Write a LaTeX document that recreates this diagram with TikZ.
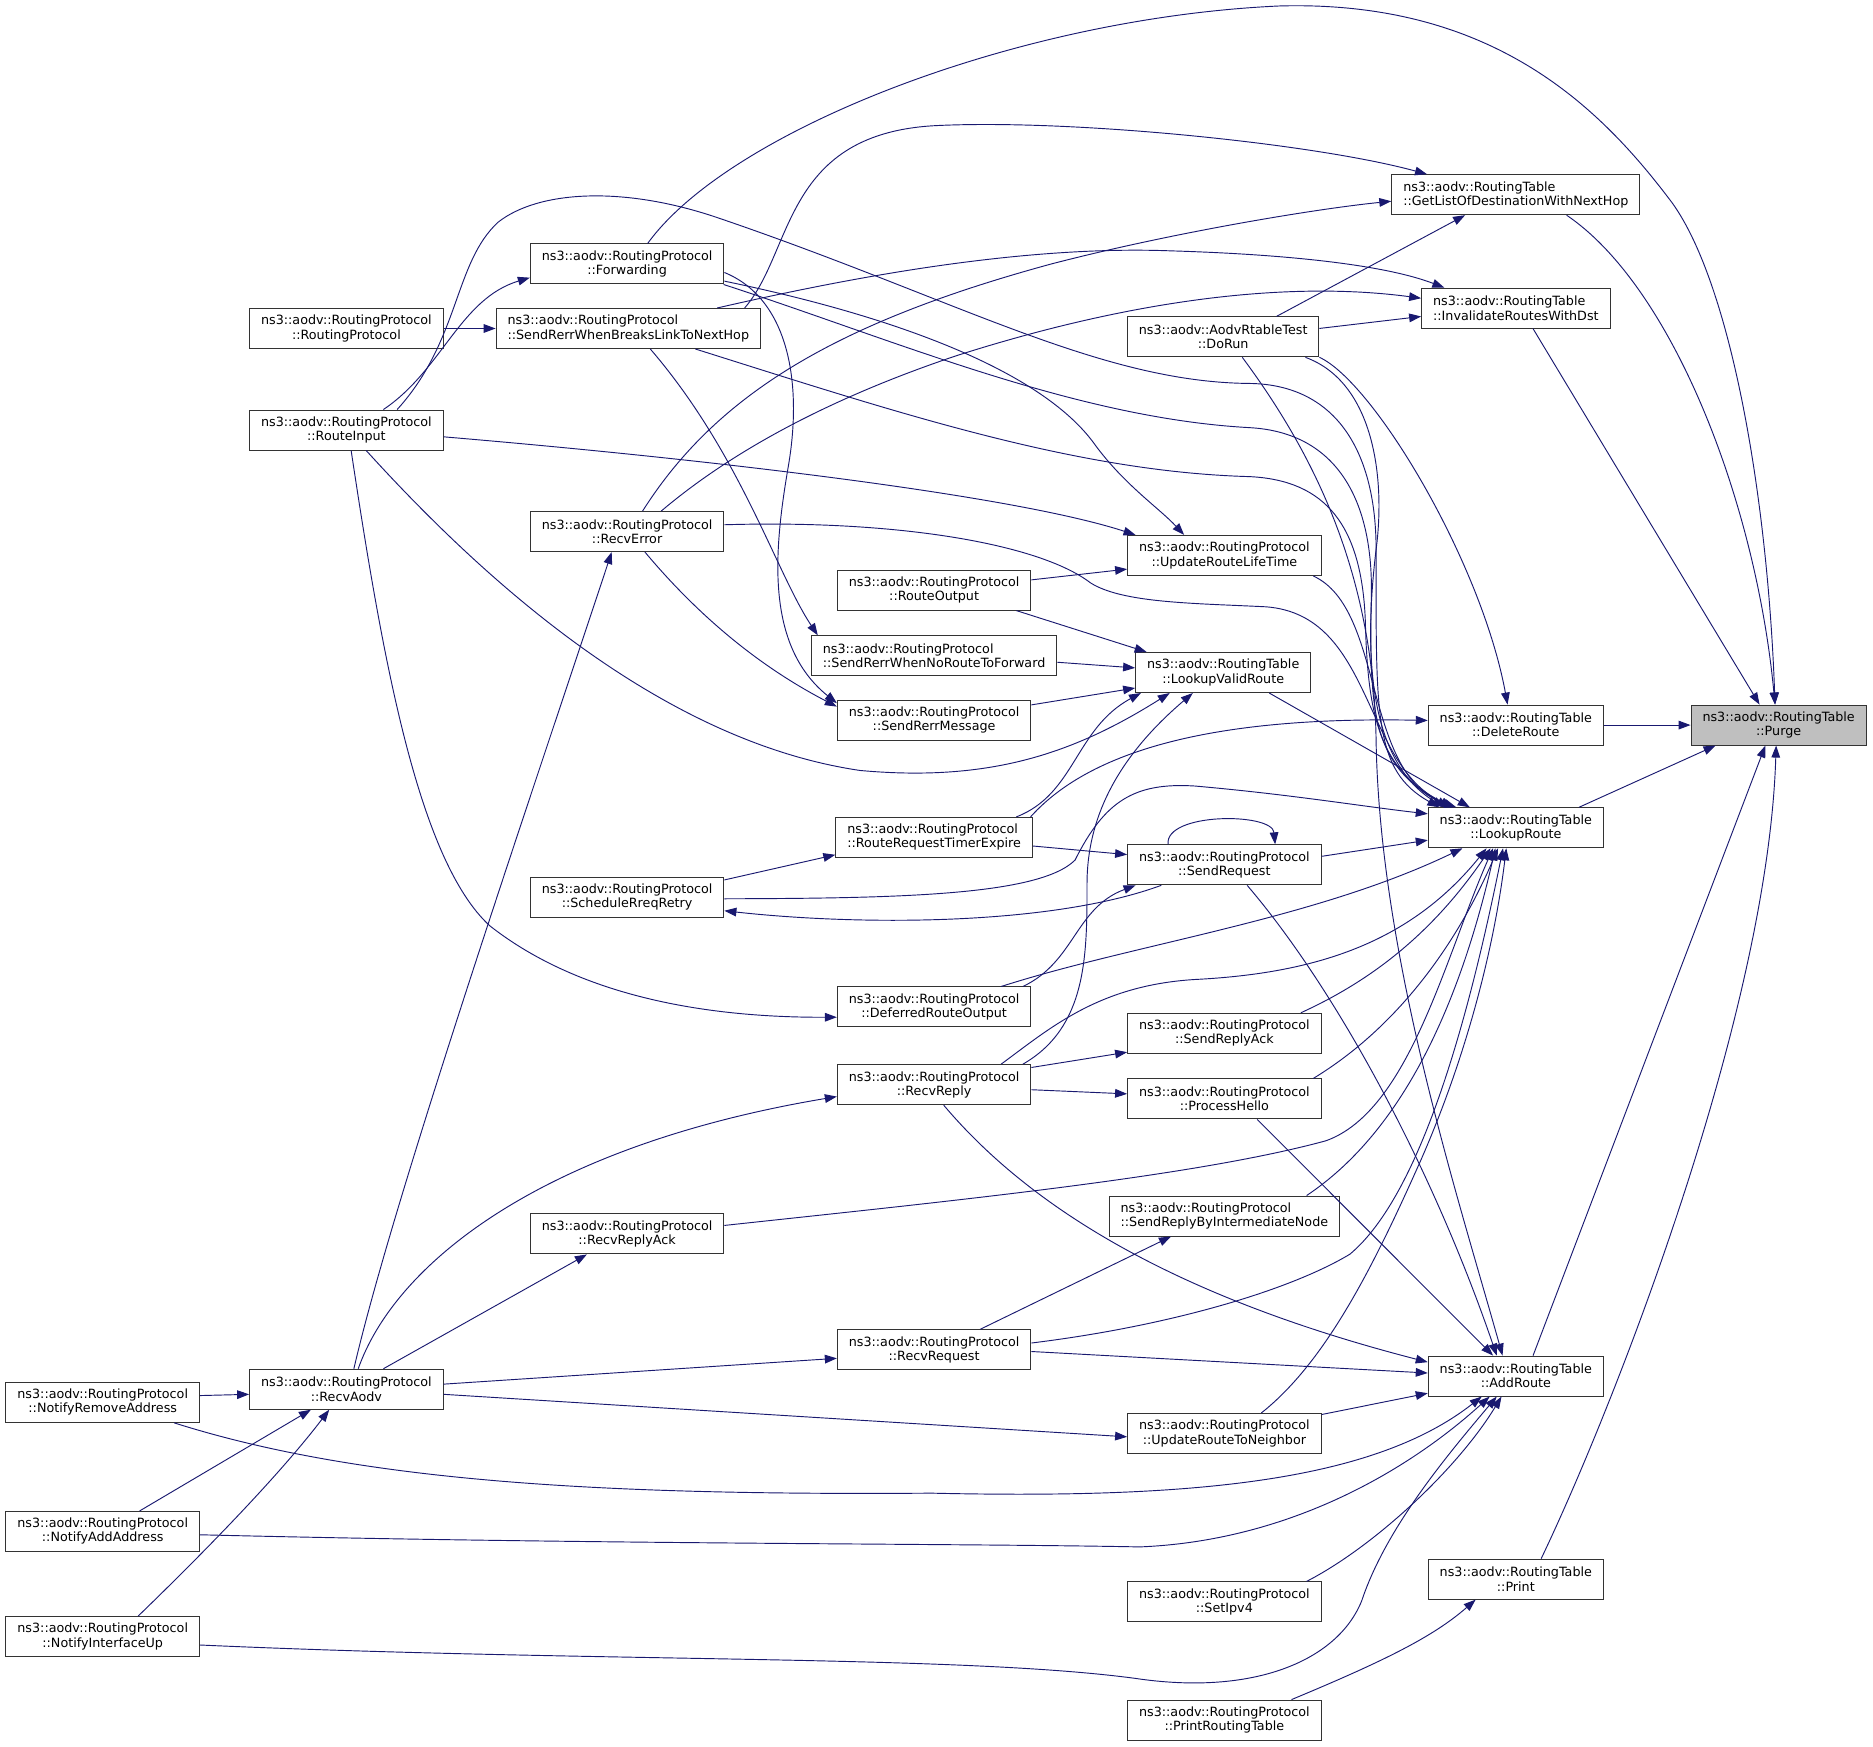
\documentclass[tikz,border=0pt]{standalone}
\usepackage{fontspec}
\newfontfamily\dejavu{DejaVu Sans}
\usetikzlibrary{arrows.meta}
\definecolor{edgeblue}{HTML}{191970}
\definecolor{nodegray}{HTML}{BFBFBF}
\begin{document}
\begin{tikzpicture}[x=0.8959pt,y=-0.8959pt,
  fn/.style={draw=black!80,line width=0.75pt,fill=white,font=\dejavu\fontsize{9.55}{10.6}\selectfont,
    align=center,inner xsep=8.6pt,inner ysep=0pt,minimum height=30pt},
  fnl/.style={fn,align=left},
  callarrow/.style={draw=edgeblue,line width=0.7pt,-{Triangle[length=9pt,width=6.5pt]}}]
\fill[white] (0,0) rectangle (1568,1461.7);
\useasboundingbox (0,0) rectangle (1568,1461.7);

% routing table functions
\node[fn,fill=nodegray] (purge) at (1489,607) {ns3::aodv::RoutingTable\\::Purge};
\node[fn] (delroute) at (1269,607) {ns3::aodv::RoutingTable\\::DeleteRoute};
\node[fn] (lookup) at (1269,693) {ns3::aodv::RoutingTable\\::LookupRoute};
\node[fn] (addroute) at (1269,1152) {ns3::aodv::RoutingTable\\::AddRoute};
\node[fn] (print) at (1269,1322) {ns3::aodv::RoutingTable\\::Print};
\node[fnl] (getlist) at (1269,163) {ns3::aodv::RoutingTable\\::GetListOfDestinationWithNextHop};
\node[fnl] (invalidate) at (1269,258) {ns3::aodv::RoutingTable\\::InvalidateRoutesWithDst};
\node[fn] (lookupvalid) at (1024,563) {ns3::aodv::RoutingTable\\::LookupValidRoute};
\node[fn] (dorun) at (1024,282) {ns3::aodv::AodvRtableTest\\::DoRun};

% routing protocol functions
\node[fn] (updlife) at (1025,465) {ns3::aodv::RoutingProtocol\\::UpdateRouteLifeTime};
\node[fn] (sendreq) at (1025,724) {ns3::aodv::RoutingProtocol\\::SendRequest};
\node[fn] (replyack) at (1025,865) {ns3::aodv::RoutingProtocol\\::SendReplyAck};
\node[fn] (hello) at (1025,920) {ns3::aodv::RoutingProtocol\\::ProcessHello};
\node[fnl] (replyinter) at (1025,1018) {ns3::aodv::RoutingProtocol\\::SendReplyByIntermediateNode};
\node[fn] (updneighbor) at (1025,1200) {ns3::aodv::RoutingProtocol\\::UpdateRouteToNeighbor};
\node[fn] (setipv4) at (1025,1341) {ns3::aodv::RoutingProtocol\\::SetIpv4};
\node[fn] (printtable) at (1025,1440) {ns3::aodv::RoutingProtocol\\::PrintRoutingTable};
\node[fn] (routeout) at (782,494) {ns3::aodv::RoutingProtocol\\::RouteOutput};
\node[fnl] (rerrnoroute) at (782,549) {ns3::aodv::RoutingProtocol\\::SendRerrWhenNoRouteToForward};
\node[fn] (rerrmsg) at (782,603) {ns3::aodv::RoutingProtocol\\::SendRerrMessage};
\node[fnl] (reqtimer) at (782,701) {ns3::aodv::RoutingProtocol\\::RouteRequestTimerExpire};
\node[fn] (deferred) at (782,843) {ns3::aodv::RoutingProtocol\\::DeferredRouteOutput};
\node[fn] (recvreply) at (782,908) {ns3::aodv::RoutingProtocol\\::RecvReply};
\node[fn] (recvreq) at (782,1130) {ns3::aodv::RoutingProtocol\\::RecvRequest};
\node[fn] (forwarding) at (525,221) {ns3::aodv::RoutingProtocol\\::Forwarding};
\node[fnl] (rerrbreaks) at (526,275) {ns3::aodv::RoutingProtocol\\::SendRerrWhenBreaksLinkToNextHop};
\node[fn] (recverror) at (525,445) {ns3::aodv::RoutingProtocol\\::RecvError};
\node[fn] (rreqretry) at (525,751) {ns3::aodv::RoutingProtocol\\::ScheduleRreqRetry};
\node[fn] (recvreplyack) at (525,1033) {ns3::aodv::RoutingProtocol\\::RecvReplyAck};
\node[fn] (ctor) at (290,275) {ns3::aodv::RoutingProtocol\\::RoutingProtocol};
\node[fn] (routein) at (290,360) {ns3::aodv::RoutingProtocol\\::RouteInput};
\node[fn] (recvaodv) at (290,1163) {ns3::aodv::RoutingProtocol\\::RecvAodv};
\node[fn] (notifyremove) at (86,1174) {ns3::aodv::RoutingProtocol\\::NotifyRemoveAddress};
\node[fn] (notifyadd) at (86,1282) {ns3::aodv::RoutingProtocol\\::NotifyAddAddress};
\node[fn] (notifyup) at (86,1370) {ns3::aodv::RoutingProtocol\\::NotifyInterfaceUp};

% calls into Purge
\draw[callarrow] (delroute) -- (purge);
\draw[callarrow] (lookup.18) -- (purge.-162);
\draw[callarrow] (addroute.50) -- (purge.-123);
\draw[callarrow] (print.39) .. controls (1350,1180) and (1480,850) .. (purge.-97);
\draw[callarrow] (getlist.-22) .. controls (1400,240) and (1470,420) .. (purge.100);
\draw[callarrow] (invalidate.-50) -- (purge.133);
\draw[callarrow] (forwarding.45) .. controls (610,110) and (850,15) .. (1071,5)
  .. controls (1250,0) and (1340,90) .. (1400,170)
  .. controls (1450,240) and (1480,420) .. (purge.100);

% calls into GetListOfDestinationWithNextHop and InvalidateRoutesWithDst
\draw[callarrow] (dorun.21) -- (getlist.-158);
\draw[callarrow] (rerrbreaks.10) .. controls (665,210) and (655,110) .. (787,105)
  .. controls (900,100) and (1100,120) .. (getlist.167);
\draw[callarrow] (recverror.53) .. controls (600,330) and (700,270) .. (880,221)
  .. controls (980,195) and (1100,175) .. (getlist.-177);
\draw[callarrow] (dorun.5) -- (invalidate.-175);
\draw[callarrow] (rerrbreaks.13) .. controls (700,235) and (850,205) .. (980,210)
  .. controls (1080,213) and (1160,222) .. (invalidate.164);
\draw[callarrow] (recverror.31) .. controls (610,380) and (690,335) .. (800,298)
  .. controls (950,250) and (1080,235) .. (invalidate.174);

% calls into DeleteRoute
\draw[callarrow] (dorun.-12) .. controls (1150,320) and (1240,470) .. (delroute.112);
\draw[callarrow] (reqtimer.12) .. controls (920,620) and (1040,600) .. (delroute.177);

% calls into LookupRoute
\draw[callarrow] (lookupvalid.-24) -- (lookup.156);
\draw[callarrow] (dorun.-14) .. controls (1150,320) and (1160,400) .. (1152,460)
  .. controls (1140,560) and (1150,640) .. (lookup.164);
\draw[callarrow] (forwarding.-12) .. controls (750,285) and (900,350) .. (1046,358)
  .. controls (1120,362) and (1150,420) .. (1148,500)
  .. controls (1146,600) and (1150,640) .. (lookup.163);
\draw[callarrow] (rerrbreaks.-17) .. controls (750,345) and (900,395) .. (1046,399)
  .. controls (1110,402) and (1140,440) .. (1143,520)
  .. controls (1145,600) and (1155,645) .. (lookup.162);
\draw[callarrow] (routein.22) .. controls (385,285) and (380,220) .. (417,186)
  .. controls (450,160) and (520,155) .. (600,182)
  .. controls (800,250) and (920,320) .. (1046,321)
  .. controls (1120,322) and (1152,380) .. (1152,460)
  .. controls (1152,600) and (1150,645) .. (lookup.165);
\draw[callarrow] (recverror.4) .. controls (750,435) and (870,455) .. (913,488)
  .. controls (940,505) and (1000,505) .. (1060,508)
  .. controls (1150,515) and (1140,640) .. (lookup.162);
\draw[callarrow] (updlife.-13) .. controls (1160,510) and (1140,650) .. (lookup.161);
\draw[callarrow] (rreqretry.-1) .. controls (750,752) and (870,750) .. (900,720)
  .. controls (925,670) and (950,655) .. (1000,658)
  .. controls (1080,665) and (1140,675) .. (lookup.171);
\draw[callarrow] (sendreq.5) -- (lookup.-172);
\draw[callarrow] (deferred.17) .. controls (950,790) and (1100,770) .. (lookup.-159);
\draw[callarrow] (recvreply.17) .. controls (880,860) and (920,825) .. (1000,820)
  .. controls (1100,815) and (1180,790) .. (lookup.-145);
\draw[callarrow] (replyack.15) .. controls (1150,820) and (1200,780) .. (lookup.-141);
\draw[callarrow] (hello.13) .. controls (1170,860) and (1220,790) .. (lookup.-131);
\draw[callarrow] (replyinter.14) .. controls (1170,950) and (1220,850) .. (lookup.-135);
\draw[callarrow] (recvreplyack.5) .. controls (800,1005) and (1000,985) .. (1110,955)
  .. controls (1180,930) and (1210,800) .. (lookup.-138);
\draw[callarrow] (recvreq.4) .. controls (980,1110) and (1080,1080) .. (1130,1050)
  .. controls (1190,1000) and (1230,850) .. (lookup.-122);
\draw[callarrow] (updneighbor.29) .. controls (1110,1140) and (1150,1060) .. (1190,970)
  .. controls (1225,890) and (1250,800) .. (lookup.-115);

% SendRequest and the request timer
\draw[callarrow] (sendreq.160) .. controls (975,680) and (1065,680) .. (sendreq.22);
\draw[callarrow] (sendreq.-162) .. controls (880,775) and (720,775) .. (rreqretry.-8);
\draw[callarrow] (reqtimer.-5) -- (sendreq.174);
\draw[callarrow] (deferred.13) .. controls (900,805) and (900,760) .. (sendreq.-167);
\draw[callarrow] (rreqretry.10) -- (reqtimer.-170);

% calls into LookupValidRoute
\draw[callarrow] (reqtimer.14) .. controls (900,665) and (900,610) .. (lookupvalid.-166);
\draw[callarrow] (routeout.-14) -- (lookupvalid.165);
\draw[callarrow] (rerrnoroute.-3) -- (lookupvalid.177);
\draw[callarrow] (rerrmsg.9) -- (lookupvalid.-170);
\draw[callarrow] (routein.-46) .. controls (400,480) and (550,620) .. (720,645)
  .. controls (830,655) and (900,630) .. (lookupvalid.-159);
\draw[callarrow] (recvreply.13) .. controls (910,860) and (910,800) .. (910,740)
  .. controls (910,680) and (940,630) .. (lookupvalid.-146);

% calls into UpdateRouteLifeTime
\draw[callarrow] (routeout.6) -- (updlife.-172);
\draw[callarrow] (routein.-4) .. controls (600,385) and (850,415) .. (updlife.167);
\draw[callarrow] (forwarding.-10) .. controls (750,265) and (870,310) .. (915,370)
  .. controls (940,405) and (970,425) .. (updlife.153);

% route errors
\draw[callarrow] (forwarding.-5) .. controls (660,250) and (672,320) .. (660,390)
  .. controls (648,460) and (640,540) .. (rerrmsg.170);
\draw[callarrow] (recverror.-49) .. controls (580,510) and (630,555) .. (rerrmsg.172);
\draw[callarrow] (rerrbreaks.-43) .. controls (620,380) and (650,480) .. (rerrnoroute.170);
\draw[callarrow] (routein.29) .. controls (370,310) and (385,250) .. (forwarding.-172);
\draw[callarrow] (ctor) -- (rerrbreaks);
\draw[callarrow] (routein.-77) .. controls (320,550) and (350,720) .. (410,775)
  .. controls (480,830) and (580,852) .. (deferred.-174);

% replies and hello
\draw[callarrow] (recvreply.10) -- (replyack.-169);
\draw[callarrow] (recvreply.-3) -- (hello.177);
\draw[callarrow] (recvreply.-65) .. controls (870,1020) and (1000,1090) .. (addroute.171);
\draw[callarrow] (hello.-32) -- (addroute.138);
\draw[callarrow] (recvreq.24) -- (replyinter.-159);

% calls into AddRoute
\draw[callarrow] (sendreq.-42) .. controls (1120,830) and (1200,980) .. (addroute.133);
\draw[callarrow] (dorun.-47) .. controls (1100,380) and (1150,480) .. (1152,620)
  .. controls (1155,800) and (1220,1000) .. (addroute.123);
\draw[callarrow] (recvreq.-1) -- (addroute.178);
\draw[callarrow] (updneighbor.11) -- (addroute.-169);
\draw[callarrow] (notifyremove.-16) .. controls (300,1240) and (500,1252) .. (780,1250)
  .. controls (1000,1255) and (1150,1240) .. (addroute.-149);
\draw[callarrow] (notifyadd.-2) .. controls (500,1293) and (800,1292) .. (954,1295)
  .. controls (1080,1290) and (1180,1230) .. (addroute.-142);
\draw[callarrow] (notifyup.-5) .. controls (500,1392) and (800,1385) .. (950,1405)
  .. controls (1050,1420) and (1120,1390) .. (1140,1340)
  .. controls (1160,1280) and (1210,1220) .. (addroute.-133);
\draw[callarrow] (setipv4.14) .. controls (1150,1295) and (1220,1230) .. (addroute.-125);

% calls into RecvAodv and out of it
\draw[callarrow] (notifyremove.4) -- (recvaodv.-177);
\draw[callarrow] (notifyadd.29) -- (recvaodv.-150);
\draw[callarrow] (notifyup.30) .. controls (160,1310) and (230,1240) .. (recvaodv.-130);
\draw[callarrow] (recvaodv.3) -- (recvreq.-175);
\draw[callarrow] (recvaodv.-3) -- (updneighbor.-178);
\draw[callarrow] (recvaodv.60) .. controls (330,1060) and (450,960) .. (recvreply.-173);
\draw[callarrow] (recvaodv.29) -- (recvreplyack.-153);
\draw[callarrow] (recvaodv.70) .. controls (330,1000) and (450,650) .. (recverror.-127);

% printing
\draw[callarrow] (printtable.17) .. controls (1160,1390) and (1200,1370) .. (print.-153);
\end{tikzpicture}
\end{document}
